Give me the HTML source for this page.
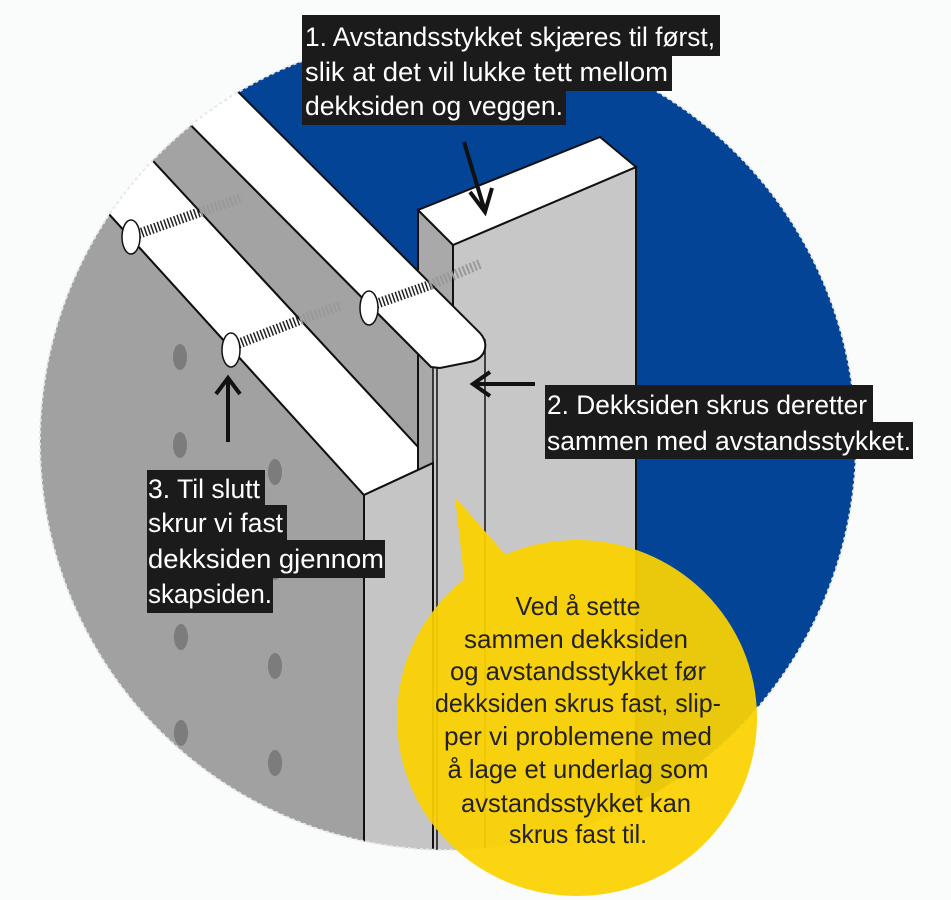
<!DOCTYPE html>
<html><head><meta charset="utf-8"><style>
html,body{margin:0;padding:0;background:#fafbfb;}
svg{display:block}
text{font-family:"Liberation Sans",sans-serif;}
</style></head><body>
<svg width="951" height="900" viewBox="0 0 951 900" xmlns="http://www.w3.org/2000/svg">
<defs>
<clipPath id="c"><circle cx="448" cy="442" r="408"/></clipPath>
</defs>
<rect width="951" height="900" fill="#fafbfb"/>
<g clip-path="url(#c)">
<circle cx="448" cy="442" r="408" fill="#ffffff"/>
<polygon points="140,-6,960,-6,960,900,436,900,436,290" fill="#034497"/>
<!-- left gray -->
<polygon points="-10,83 364,495 364,900 -10,900" fill="#a1a1a1" stroke="#111" stroke-width="2"/>
<!-- band2 white -->
<polygon points="-10,-15 433,463 364,495 -10,83" fill="#ffffff" stroke="#111" stroke-width="2"/>
<!-- gray band -->
<polygon points="-10,-77 431,367 433,463 -10,-15" fill="#a3a3a3" stroke="#111" stroke-width="2"/>
<!-- spacer -->
<polygon points="418,210 453,245 453,900 418,900" fill="#a9a9a9" stroke="#111" stroke-width="2"/>
<polygon points="453,245 636,167 636,900 453,900" fill="#c7c7c7" stroke="#111" stroke-width="2"/>
<polygon points="418,210 600,137 636,167 453,245" fill="#ffffff" stroke="#111" stroke-width="2"/>
<rect x="433" y="340" width="52" height="560" fill="#c7c7c7" stroke="#111" stroke-width="1.5"/>
<line x1="437" y1="360" x2="437" y2="900" stroke="#111" stroke-width="1.5"/>
<!-- band1 -->
<path d="M140,-6 L480,333 Q488,342 484,352 Q480,360 470,362 L440,368 L431,367 L-10,-77 Z" fill="#ffffff" stroke="#111" stroke-width="2"/>
<!-- dekkside front -->
<polygon points="364,495 433,463 433,900 364,900" fill="#c5c5c5" stroke="#111" stroke-width="2"/>
<!-- holes -->
<g fill="#7c7c7c">
<ellipse cx="180" cy="357" rx="7" ry="13"/><ellipse cx="180" cy="445" rx="7" ry="13"/>
<ellipse cx="181" cy="540" rx="7" ry="13"/><ellipse cx="181" cy="637" rx="7" ry="13"/>
<ellipse cx="181" cy="733" rx="7" ry="13"/>
<ellipse cx="275" cy="472" rx="7" ry="13"/><ellipse cx="275" cy="567" rx="7" ry="13"/>
<ellipse cx="275" cy="666" rx="7" ry="13"/><ellipse cx="275" cy="763" rx="7" ry="13"/>
</g>
<!-- screws -->
<g>
<line x1="200" y1="212" x2="242" y2="198" stroke="#999" stroke-width="10" stroke-dasharray="2 2"/>
<line x1="135" y1="235" x2="200" y2="212" stroke="#222" stroke-width="10" stroke-dasharray="1.5 2"/>
<ellipse cx="131" cy="237" rx="9" ry="17" fill="#fff" stroke="#111" stroke-width="1.5"/>
<line x1="300" y1="320" x2="342" y2="305" stroke="#999" stroke-width="10" stroke-dasharray="2 2"/>
<line x1="235" y1="345" x2="300" y2="320" stroke="#222" stroke-width="10" stroke-dasharray="1.5 2"/>
<ellipse cx="231" cy="350" rx="9" ry="17" fill="#fff" stroke="#111" stroke-width="1.5"/>
<line x1="430" y1="285" x2="480" y2="264" stroke="#999" stroke-width="10" stroke-dasharray="2 2"/>
<line x1="373" y1="305" x2="430" y2="285" stroke="#222" stroke-width="10" stroke-dasharray="1.5 2"/>
<ellipse cx="369" cy="308" rx="9" ry="17" fill="#fff" stroke="#111" stroke-width="1.5"/>
</g>
</g>
<circle cx="448" cy="442" r="408" fill="none" stroke="#e6e8e8" stroke-width="2" stroke-dasharray="3 3"/>
<!-- arrows -->
<g stroke="#111" stroke-width="4" fill="none">
<line x1="464" y1="142" x2="484" y2="208"/>
<polyline points="470,192 485,212 492,188"/>
<line x1="535" y1="384" x2="474" y2="384"/>
<polyline points="490,372 473,384 490,396"/>
<line x1="228" y1="442" x2="228" y2="380"/>
<polyline points="216,394 228,378 240,394"/>
</g>
<!-- bubble -->
<g opacity="0.93">
<ellipse cx="577" cy="718" rx="180" ry="178" fill="#fcd200"/>
<polygon points="455,497 510,560 465,585" fill="#fcd200"/>
</g>
<g fill="#222" font-size="26" text-anchor="middle">
<text x="578" y="615" textLength="125" lengthAdjust="spacingAndGlyphs">Ved å sette</text>
<text x="576" y="648" textLength="224" lengthAdjust="spacingAndGlyphs">sammen dekksiden</text>
<text x="578" y="680" textLength="256" lengthAdjust="spacingAndGlyphs">og avstandsstykket før</text>
<text x="578" y="712" textLength="286" lengthAdjust="spacingAndGlyphs">dekksiden skrus fast, slip-</text>
<text x="578" y="745" textLength="268" lengthAdjust="spacingAndGlyphs">per vi problemene med</text>
<text x="578" y="778" textLength="261" lengthAdjust="spacingAndGlyphs">å lage et underlag som</text>
<text x="576" y="812" textLength="230" lengthAdjust="spacingAndGlyphs">avstandsstykket kan</text>
<text x="578" y="843" textLength="138" lengthAdjust="spacingAndGlyphs">skrus fast til.</text>
</g>
<!-- text boxes -->
<g fill="#1b1b1b">
<rect x="302" y="15" width="418" height="41"/>
<rect x="302" y="55" width="370" height="36"/>
<rect x="302" y="90" width="264" height="35"/>
<rect x="545" y="385" width="328" height="38"/>
<rect x="545" y="422" width="368" height="37"/>
<rect x="147" y="470" width="118" height="36"/>
<rect x="147" y="505" width="140" height="36"/>
<rect x="147" y="540" width="238" height="38"/>
<rect x="147" y="577" width="126" height="36"/>
</g>
<g fill="#fff" font-size="27">
<text x="305" y="46" textLength="410" lengthAdjust="spacingAndGlyphs">1. Avstandsstykket skjæres til først,</text>
<text x="305" y="81" textLength="363" lengthAdjust="spacingAndGlyphs">slik at det vil lukke tett mellom</text>
<text x="305" y="115" textLength="258" lengthAdjust="spacingAndGlyphs">dekksiden og veggen.</text>
<text x="547" y="414" textLength="320" lengthAdjust="spacingAndGlyphs">2. Dekksiden skrus deretter</text>
<text x="547" y="450" textLength="364" lengthAdjust="spacingAndGlyphs">sammen med avstandsstykket.</text>
<text x="148" y="498" textLength="112" lengthAdjust="spacingAndGlyphs">3. Til slutt</text>
<text x="148" y="532" textLength="135" lengthAdjust="spacingAndGlyphs">skrur vi fast</text>
<text x="148" y="568" textLength="236" lengthAdjust="spacingAndGlyphs">dekksiden gjennom</text>
<text x="148" y="603" textLength="124" lengthAdjust="spacingAndGlyphs">skapsiden.</text>
</g>
</svg>
</body></html>
